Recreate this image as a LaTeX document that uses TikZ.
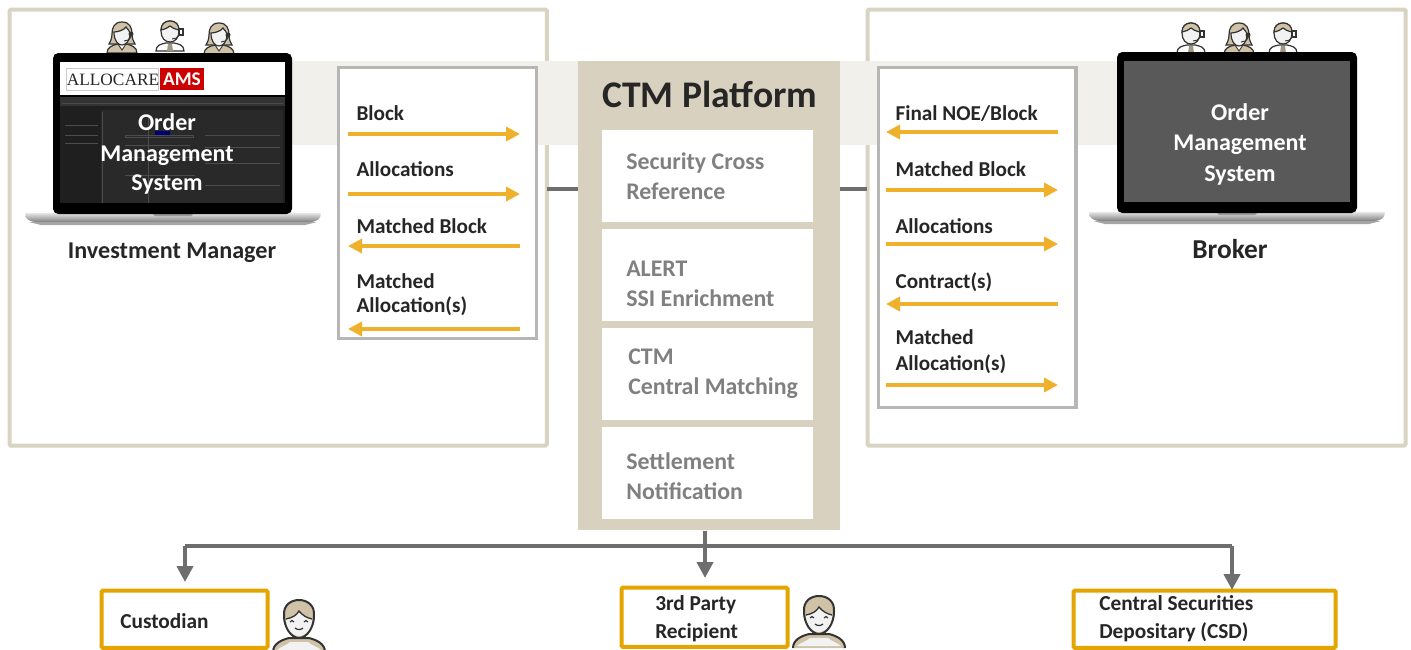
\documentclass[tikz,border=0pt]{standalone}
\usepackage{fontspec}
\setmainfont{Carlito}
\newfontfamily\serifl{Liberation Serif}
\usetikzlibrary{arrows.meta}
\definecolor{frameC}{HTML}{D9D3C2}
\definecolor{bandC}{HTML}{F1F0EB}
\definecolor{ctmC}{HTML}{D8D1BF}
\definecolor{arrowC}{HTML}{EFB12B}
\definecolor{goldC}{HTML}{E5A500}
\definecolor{greyT}{HTML}{808080}
\definecolor{darkT}{HTML}{262626}
\definecolor{lineC}{HTML}{6E6E6E}
\definecolor{skinC}{HTML}{CFC2A6}
\definecolor{faceC}{HTML}{F2F2F2}
\definecolor{inkC}{HTML}{333333}
\tikzset{
  x=0.75pt,y=-0.75pt,
  panel/.style={draw=frameC,line width=3pt,fill=white,rounded corners=1pt},
  msgbox/.style={draw=lineC!50,line width=2.6pt,fill=white},
  svc/.style={fill=white,anchor=north west,inner sep=0pt,minimum width=158.25pt,minimum height=69pt},
  svctxt/.style={anchor=base west,inner sep=0pt,yshift=-0.4pt,font=\fontsize{17.9pt}{17.9pt}\selectfont\bfseries,text=greyT},
  lbl/.style={anchor=base west,inner sep=0pt,xshift=-0.5pt,yshift=-0.4pt,font=\fontsize{15.9pt}{15.9pt}\selectfont\bfseries,text=darkT},
  small/.style={anchor=base west,inner sep=0pt,yshift=-0.4pt,font=\fontsize{16pt}{16pt}\selectfont\bfseries,text=darkT},
  big/.style={anchor=base,inner sep=0pt,yshift=-0.4pt,font=\fontsize{18.1pt}{18.1pt}\selectfont\bfseries,text=darkT},
  oms/.style={anchor=base,inner sep=0pt,yshift=-0.4pt,font=\fontsize{18pt}{18pt}\selectfont\bfseries,text=white},
  msg/.style={draw=arrowC,line width=2.8pt,yshift=-0.4pt,-{Triangle[length=10.5pt,width=10.5pt]}},
  feed/.style={draw=lineC,line width=3pt},
  feeda/.style={draw=lineC,line width=3pt,-{Triangle[length=12pt,width=12pt]}},
  party/.style={draw=goldC,line width=3pt,fill=white,rounded corners=1pt,anchor=north west,inner sep=0pt},
  pics/fem/.style={code={
    \draw[inkC,line width=.9pt,fill=skinC] (-15,31) .. controls (-15,25) and (-9,23) .. (-4,22) -- (4,22) .. controls (9,23) and (15,25) .. (15,31) -- cycle;
    \draw[inkC,line width=.7pt,fill=white] (-4,22) -- (0,28) -- (4,22) -- cycle;
    \draw[inkC,line width=.9pt,fill=skinC] (0,0) .. controls (-8,0) and (-10,6) .. (-10,12) .. controls (-10,17) and (-12,20) .. (-13,22) -- (13,22) .. controls (12,20) and (10,17) .. (10,12) .. controls (10,6) and (8,0) .. (0,0) -- cycle;
    \draw[inkC,line width=.9pt,fill=faceC] (-8,10) .. controls (-4,10) and (2,8) .. (4,5) .. controls (6,8) and (8,9) .. (8,11) .. controls (8,19) and (4,23) .. (0,23) .. controls (-4,23) and (-8,19) .. (-8,10) -- cycle;
    \fill[inkC] (9,12) circle (2.5);
    \draw[inkC,line width=.7pt] (9,14) .. controls (8,18) and (5,19) .. (2,19);
  }},
  pics/mal/.style={code={
    \draw[inkC,line width=.9pt,fill=white] (-14,31) .. controls (-14,25) and (-9,24) .. (-4,23) -- (4,23) .. controls (9,24) and (14,25) .. (14,31) -- cycle;
    \fill[skinC!70!inkC] (-2,24) -- (2,24) -- (3,31) -- (-3,31) -- cycle;
    \draw[inkC,line width=.9pt,fill=faceC] (0,1) .. controls (-7,1) and (-9,6) .. (-9,11) .. controls (-9,18) and (-5,22) .. (0,22) .. controls (5,22) and (9,18) .. (9,11) .. controls (9,6) and (7,1) .. (0,1) -- cycle;
    \draw[inkC,line width=.9pt,fill=skinC] (-9,10) .. controls (-9,4) and (-5,1) .. (0,1) .. controls (5,1) and (9,4) .. (9,10) .. controls (5,9) and (2,8) .. (0,6) .. controls (-2,8) and (-5,9) .. (-9,10) -- cycle;
    \draw[inkC,line width=.9pt,fill=white] (9,9) rectangle (13,15);
    \draw[inkC,line width=.7pt] (9,15) .. controls (8,18) and (5,19) .. (2,19);
  }},
  pics/guy/.style={code={
    \draw[inkC,line width=1.5pt,fill=skinC] (-26,52) .. controls (-26,44) and (-18,40) .. (-10,38) -- (10,38) .. controls (18,40) and (26,44) .. (26,52);
    \fill[faceC] (-22,50) .. controls (-19,47) and (-12,45) .. (-9,42) -- (9,42) .. controls (12,45) and (19,47) .. (22,50) -- cycle;
    \draw[inkC,line width=1.5pt,fill=skinC] (-15,16) .. controls (-16,5) and (-8,0) .. (0,0) .. controls (8,0) and (16,5) .. (15,16) .. controls (15,27) and (8,38) .. (0,38) .. controls (-8,38) and (-15,27) .. (-15,16) -- cycle;
    \fill[faceC] (-13,19) .. controls (-7,18) and (-2,15) .. (0,11) .. controls (3,15) and (8,18) .. (13,19) .. controls (13,28) and (7,36) .. (0,36) .. controls (-7,36) and (-13,28) .. (-13,19) -- cycle;
    \draw[inkC,line width=1pt] (-13,19) .. controls (-7,18) and (-2,15) .. (0,11) .. controls (3,15) and (8,18) .. (13,19);
    \draw[inkC,line width=.9pt] (-9,22) .. controls (-8,20) and (-6,20) .. (-5,22) (5,22) .. controls (6,20) and (8,20) .. (9,22) (-4,28) .. controls (-2,30) and (2,30) .. (4,28);
  }}
}
\newcommand{\laptopbase}[2]{%
  \fill[black!35] (#1+4,#2+9) -- (#1+292,#2+9) -- (#1+280,#2+12) -- (#1+16,#2+12) -- cycle;
  \shade[top color=black!10,bottom color=black!50] (#1,#2) -- (#1+296,#2) .. controls (#1+296,#2+6) and (#1+292,#2+9) .. (#1+284,#2+9) -- (#1+12,#2+9) .. controls (#1+4,#2+9) and (#1,#2+6) .. (#1,#2) -- cycle;
  \fill[black!40] (#1+127,#2) -- (#1+169,#2) -- (#1+166,#2+3) -- (#1+130,#2+3) -- cycle;
}
\begin{document}
\begin{tikzpicture}
\useasboundingbox (0,0) rectangle (1411,650);
\clip (0,0) rectangle (1411,650);
\fill[white] (0,0) rectangle (1411,650);
% panels
\node[panel,anchor=north west,inner sep=0pt,minimum width=403pt,minimum height=327pt] (imp) at (7.5,7.5) {};
\node[panel,anchor=north west,inner sep=0pt,minimum width=403.5pt,minimum height=327pt] (brp) at (865.5,7.5) {};
\fill[bandC] (285,61) rectangle (1125,145);
% connectors to CTM
\node[fill=ctmC,anchor=north west,inner sep=0pt,minimum width=196.5pt,minimum height=351.75pt] (ctm) at (578,61) {};
\coordinate (il) at (547,189); \coordinate (ir) at (578,189);
\coordinate (bl) at (840,189); \coordinate (br) at (867,189);
\draw[feed] (il) -- (ir);
\draw[feed] (bl) -- (br);
% message boxes
\node[msgbox,anchor=north west,inner sep=0pt,minimum width=148.5pt,minimum height=203pt] (lm) at (337,66) {};
\node[msgbox,anchor=north west,inner sep=0pt,minimum width=148pt,minimum height=255pt] (rm) at (877,66) {};
% CTM
\node[anchor=base west,inner sep=0pt,yshift=-0.4pt,font=\fontsize{28.2pt}{28.2pt}\selectfont\bfseries,text=darkT] (ctmt) at (602,107) {CTM Platform};
\node[svc] (s1) at (602,130) {};
\node[svc] (s2) at (602,229) {};
\node[svc] (s3) at (602,328) {};
\node[svc] (s4) at (602,427) {};
\node[svctxt] at (626,169) {Security Cross};
\node[svctxt] at (626,199) {Reference};
\node[svctxt] at (626,276) {ALERT};
\node[svctxt] at (626,306) {SSI Enrichment};
\node[svctxt] at (628,364) {CTM};
\node[svctxt] at (628,394) {Central Matching};
\node[svctxt] at (626,469) {Settlement};
\node[svctxt] at (626,499) {Notification};
% left labels & arrows
\node[lbl] at (357,120) {Block};
\node[lbl] at (357,176) {Allocations};
\node[lbl] at (357,233) {Matched Block};
\node[lbl] at (357,288) {Matched};
\node[lbl] at (357,312) {Allocation(s)};
\coordinate (a1) at (348,134); \coordinate (b1) at (520,134);
\coordinate (a2) at (348,194); \coordinate (b2) at (520,194);
\coordinate (a3) at (348,246); \coordinate (b3) at (520,246);
\coordinate (a4) at (348,329); \coordinate (b4) at (520,329);
\draw[msg] (a1) -- (b1);
\draw[msg] (a2) -- (b2);
\draw[msg] (b3) -- (a3);
\draw[msg] (b4) -- (a4);
% right labels & arrows
\node[lbl] at (896,120) {Final NOE/Block};
\node[lbl] at (896,176) {Matched Block};
\node[lbl] at (896,233) {Allocations};
\node[lbl] at (896,288) {Contract(s)};
\node[lbl] at (896,344) {Matched};
\node[lbl] at (896,370) {Allocation(s)};
\coordinate (c1) at (886,132); \coordinate (d1) at (1058,132);
\coordinate (c2) at (886,190); \coordinate (d2) at (1058,190);
\coordinate (c3) at (886,244); \coordinate (d3) at (1058,244);
\coordinate (c4) at (886,304); \coordinate (d4) at (1058,304);
\coordinate (c5) at (886,385); \coordinate (d5) at (1058,385);
\draw[msg] (d1) -- (c1);
\draw[msg] (c2) -- (d2);
\draw[msg] (c3) -- (d3);
\draw[msg] (d4) -- (c4);
\draw[msg] (c5) -- (d5);
% people on laptops
\pic at (122,22) {fem};
\pic at (170,20) {mal};
\pic at (219,23) {fem};
\pic at (1191,22) {mal};
\pic at (1239,23) {fem};
\pic at (1283,22) {mal};
% left laptop
\laptopbase{25}{213}
\fill[black,rounded corners=4pt] (53,53) rectangle (292,214);
\fill[white] (60,62) rectangle (285,95);
\fill[black!88] (60,97) rectangle (285,203);
\fill[black!80] (60,97) rectangle (285,106);
\fill[black!84] (101,110) rectangle (283,203);
\draw[black!70,line width=.35pt] (125,135) rectangle (193,137) (125,145) -- (190,145) (125,157) -- (195,157) (205,135) -- (280,135) (205,147) -- (280,147) (205,163) -- (280,163) (125,175) -- (195,175) (205,185) -- (280,185) (65,125) -- (98,125) (65,135) -- (98,135) (65,143) -- (98,143) (62,103) -- (283,103) (102,112) -- (102,203) (148,115) -- (148,203);
\fill[blue!45!black] (155,131) rectangle (170,135);
\draw[black!20,fill=white,line width=.6pt] (66,68) rectangle (158,90);
\fill[red!80!black] (160,68) rectangle (204,90);
\node[inner sep=0pt,font=\serifl\fontsize{13pt}{13pt}\selectfont,text=black!85] (logo) at (113,79.5) {ALLOCARE};
\node[inner sep=0pt,font=\fontsize{14.5pt}{14.5pt}\selectfont\bfseries,text=white] (ams) at (182,79.5) {AMS};
\node[oms] at (167,130) {Order};
\node[oms] at (167,161) {Management};
\node[oms] at (167,190) {System};
\node[big] at (172,258) {Investment Manager};
% right laptop
\laptopbase{1089}{212}
\fill[black,rounded corners=4pt] (1117,52) rectangle (1357,213);
\fill[black!65] (1124,61) rectangle (1350,202);
\node[oms] at (1240,120) {Order};
\node[oms] at (1240,150) {Management};
\node[oms] at (1240,181) {System};
\node[big,font=\fontsize{20.5pt}{20.5pt}\selectfont\bfseries] at (1230,258) {Broker};
% distribution
\node[party,minimum width=124.5pt,minimum height=43pt] (cus) at (99.5,588.5) {};
\node[party,minimum width=124.5pt,minimum height=44.5pt] (trd) at (619.5,585.5) {};
\node[party,minimum width=196.5pt,minimum height=43pt] (csd) at (1071.5,588.5) {};
\coordinate (tr) at (705,546);
\coordinate (cusj) at (185,546);
\coordinate (csdj) at (1232,546);
\coordinate (cusa) at (185,582);
\coordinate (csda) at (1232,590);
\coordinate (trda) at (705,578);
\draw[feed] (cusj) -- (csdj);
\draw[feeda] (ctm.south -| tr) -- (trda);
\draw[feeda] (cusj) -- (cusa);
\draw[feeda] (csdj) -- (csda);
\node[small] at (120,628) {Custodian};
\node[small] at (655,610) {3rd Party};
\node[small] at (655,638) {Recipient};
\node[small] at (1099,610) {Central Securities};
\node[small] at (1099,638) {Depositary (CSD)};
\pic at (299,600) {guy};
\pic at (819,596) {guy};
\end{tikzpicture}
\end{document}
